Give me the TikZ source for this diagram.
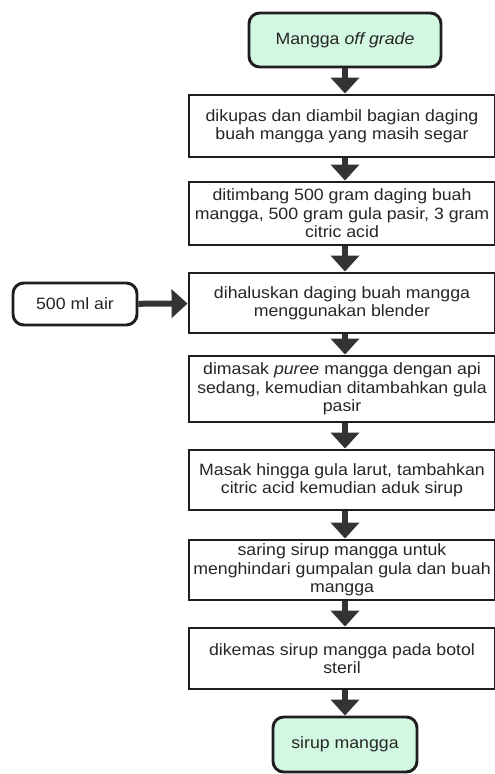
\documentclass[tikz,border=0pt]{standalone}
\usepackage{fontspec}
\setmainfont{Liberation Sans}[FakeStretch=1.08]
\usetikzlibrary{arrows.meta}

\definecolor{mintfill}{HTML}{D3F8E2}
\definecolor{inkline}{HTML}{1E1E1E}
\definecolor{arrowgray}{HTML}{333333}

\tikzset{
    procbox/.style={draw=inkline, line width=2.2pt, fill=white, minimum width=306*0.75pt, align=center,
        inner xsep=0pt, inner ysep=2pt, font=\fontsize{12.3}{13.8}\selectfont, text=black!85},
    termbox/.style={draw=inkline, line width=2.2pt, fill=mintfill, rounded corners=8pt, align=center,
        font=\fontsize{12.3}{13.8}\selectfont, text=black!85},
    inputbox/.style={draw=inkline, line width=2.2pt, fill=white, rounded corners=8pt, align=center,
        font=\fontsize{12.3}{13.8}\selectfont, text=black!85},
    flow/.style={draw=arrowgray, line width=4.5pt, -{Triangle[width=21pt, length=12pt]}}
}

\begin{document}
\begin{tikzpicture}[x=0.75pt, y=-0.75pt]
\useasboundingbox (0,0) rectangle (494,774);

    \node[termbox, minimum width=192*0.75pt, minimum height=54*0.75pt] (start) at (345,40) {Mangga \textit{off grade}};
    \node[procbox, minimum height=62*0.75pt] (kupas) at (342,126) {dikupas dan diambil bagian daging\\buah mangga yang masih segar};
    \node[procbox, minimum height=63*0.75pt] (timbang) at (342,213.5) {ditimbang 500 gram daging buah\\mangga, 500 gram gula pasir, 3 gram\\citric acid};
    \node[procbox, minimum height=60*0.75pt] (halus) at (342,303) {dihaluskan daging buah mangga\\menggunakan blender};
    \node[inputbox, minimum width=124*0.75pt, minimum height=42*0.75pt] (air) at (75,304) {500 ml air};
    \node[procbox, minimum height=66*0.75pt] (masak) at (342,389) {dimasak \textit{puree} mangga dengan api\\sedang, kemudian ditambahkan gula\\pasir};
    \node[procbox, minimum height=60*0.75pt] (larut) at (342,480) {Masak hingga gula larut, tambahkan\\citric acid kemudian aduk sirup};
    \node[procbox, minimum height=60*0.75pt] (saring) at (342,570) {saring sirup mangga untuk\\menghindari gumpalan gula dan buah\\mangga};
    \node[procbox, minimum height=61*0.75pt] (kemas) at (342,658.5) {dikemas sirup mangga pada botol\\steril};
    \node[termbox, minimum width=144*0.75pt, minimum height=55*0.75pt] (finish) at (345,744.5) {sirup mangga};

    % alur utama
    \draw[flow] (start) -- (start |- kupas.north);
    \draw[flow] (start |- kupas.south) -- (start |- timbang.north);
    \draw[flow] (start |- timbang.south) -- (start |- halus.north);
    \draw[flow] (start |- halus.south) -- (start |- masak.north);
    \draw[flow] (start |- masak.south) -- (start |- larut.north);
    \draw[flow] (start |- larut.south) -- (start |- saring.north);
    \draw[flow] (start |- saring.south) -- (start |- kemas.north);
    \draw[flow] (start |- kemas.south) -- (finish);
    % bahan tambahan
    \draw[flow] (air) -- (halus);
\end{tikzpicture}
\end{document}
